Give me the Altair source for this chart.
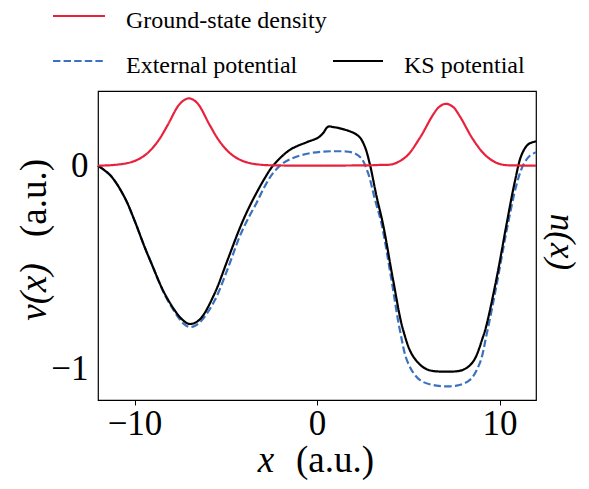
import altair as alt
import pandas as pd

# ---------------- data ----------------
x_ks = [-12.0, -11.3, -10.55, -10.0, -9.45, -9.08, -8.35, -7.62, -7.3, -7.02, -6.7,
        -6.34, -5.61, -4.88, -4.24, -3.8, -3.32, -2.85, -2.41, -1.5, -0.58, 0.06, 0.33, 0.6, 0.9,
        1.25, 1.97, 2.34, 2.62, 2.89, 3.26, 3.62, 4.17, 4.72, 5.27, 6.0, 7.1, 8.01,
        8.56, 9.11, 9.29, 9.84, 10.38, 10.84, 11.21, 11.57, 12.0]
v_ks = [0.0, -0.05, -0.155, -0.27, -0.40, -0.48, -0.63, -0.735, -0.765, -0.78, -0.775,
        -0.75, -0.63, -0.46, -0.31, -0.22, -0.135, -0.06, 0.0, 0.077, 0.115, 0.138, 0.16, 0.192, 0.19,
        0.184, 0.163, 0.14, 0.094, 0.01, -0.15, -0.29, -0.563, -0.81, -0.94, -1.003, -1.015, -1.006,
        -0.965, -0.84, -0.785, -0.555, -0.292, -0.079, 0.053, 0.105, 0.12]

x_ext = [-12.0, -11.3, -10.55, -10.0, -9.45, -9.08, -8.35, -7.62, -7.3, -7.0, -6.7,
         -6.34, -5.61, -4.88, -4.24, -3.8, -3.32, -2.85, -2.41, -1.86, -1.13, -0.22, 0.88, 1.97, 2.43,
         2.8, 3.17, 3.53, 4.08, 4.54, 4.99, 5.63, 6.55, 7.65, 8.38, 8.92, 9.29, 9.84,
         10.38, 10.93, 11.3, 11.66, 12.0]
v_ext = [0.0, -0.05, -0.155, -0.27, -0.40, -0.48, -0.635, -0.745, -0.78, -0.795, -0.79,
         -0.765, -0.665, -0.505, -0.35, -0.265, -0.185, -0.1, -0.037, 0.012, 0.044, 0.064, 0.071, 0.064, 0.036,
         -0.037, -0.165, -0.284, -0.563, -0.81, -0.973, -1.056, -1.084, -1.084, -1.056, -0.973, -0.834, -0.588,
         -0.325, -0.095, 0.003, 0.049, 0.066]

x_n = [-12.0, -11.2, -10.37, -9.82, -9.27, -8.72, -8.17, -7.62, -7.3, -7.02, -6.7,
       -6.43, -5.89, -5.34, -4.79, -4.24, -3.7, -3.0, -2.0, 0.0, 2.0, 3.0, 3.5, 4.17,
       4.9, 5.63, 6.36, 6.7, 7.06, 7.45, 7.83, 8.56, 9.29, 10.02, 11.0, 12.0]
n_vals = [0.0, 0.003, 0.013, 0.03, 0.063, 0.12, 0.202, 0.293, 0.322, 0.332, 0.32,
          0.293, 0.202, 0.12, 0.063, 0.03, 0.013, 0.004, 0.001, 0.0, 0.001, 0.002, 0.004, 0.008,
          0.046, 0.136, 0.251, 0.29, 0.305, 0.29, 0.243, 0.128, 0.046, 0.008, 0.001, 0.0]

series_names = ["Ground-state density", "External potential", "KS potential"]
series_colors = ["#e8213c", "#3a72c0", "#000000"]
series_dash = [[1, 0], [7.4, 3.2], [1, 0]]

x_ticks = [-10, 0, 10]
y_ticks = [0, -1]
x_domain = [-12, 12]
y_domain = [-1.155, 0.368]

FONT = "Liberation Serif"

df = pd.concat([
    pd.DataFrame({"x": x_n, "v": n_vals, "series": series_names[0]}),
    pd.DataFrame({"x": x_ext, "v": v_ext, "series": series_names[1]}),
    pd.DataFrame({"x": x_ks, "v": v_ks, "series": series_names[2]}),
], ignore_index=True)

W, H = 438, 309

xs = alt.Scale(domain=x_domain, nice=False, zero=False)
ys = alt.Scale(domain=y_domain, nice=False, zero=False)

xaxis = alt.Axis(values=x_ticks, title=None, grid=False, domain=False,
                 tickSize=5, tickColor="black", tickWidth=1,
                 labelFont=FONT, labelFontSize=35, labelColor="black",
                 labelPadding=1, labelExpr="replace(datum.label, '-', '−')")
yaxis = alt.Axis(values=y_ticks, title=None, grid=False, domain=False, ticks=False,
                 labelFont=FONT, labelFontSize=35, labelColor="black",
                 labelPadding=10, labelExpr="replace(datum.label, '-', '−')")

layers = []
for i in [1, 2, 0]:
    name = series_names[i]
    sub = df[df.series == name]
    layers.append(
        alt.Chart(sub).mark_line(interpolate="catmull-rom", strokeWidth=2.2,
                                 color=series_colors[i], strokeDash=series_dash[i])
        .encode(x=alt.X("x:Q", scale=xs, axis=xaxis),
                y=alt.Y("v:Q", scale=ys, axis=yaxis),
                order="x:Q")
    )

# legend (two columns, matplotlib style)
leg_pos = [(-45, 7, -75, 28), (-45, 7, -30, 28), (235, 285, -30, 306)]
for i, (x1, x2, yy, tx) in enumerate(leg_pos):
    layers.append(
        alt.Chart(pd.DataFrame({"s": [series_names[i]]})).mark_rule(
            color=series_colors[i], strokeWidth=2.2, strokeDash=series_dash[i])
        .encode(x=alt.value(x1), x2=alt.value(x2), y=alt.value(yy))
    )
    layers.append(
        alt.Chart(pd.DataFrame({"s": [series_names[i]]})).mark_text(
            font=FONT, fontSize=24, align="left", baseline="middle", color="black")
        .encode(x=alt.value(tx), y=alt.value(yy + 5), text="s:N")
    )

def label(txt, x, y, size=37, angle=0, italic=False, align="center", baseline="alphabetic"):
    kw = dict(font=FONT, fontSize=size, align=align, baseline=baseline, color="black")
    if angle:
        kw["angle"] = angle
    if italic:
        kw["fontStyle"] = "italic"
    return (alt.Chart(pd.DataFrame({"t": [txt]})).mark_text(**kw)
            .encode(x=alt.value(x), y=alt.value(y), text="t:N"))

# axis titles
layers.append(label("x", 168, 381, italic=True))
layers.append(label("(a.u.)", 237, 381))
layers.append(label("v(x)", -52, 201, angle=270, italic=True))
layers.append(label("(a.u.)", -52, 107, angle=270))
layers.append(label("n(x)", 453, 151, size=35, angle=90, italic=True))

chart = alt.layer(*layers).properties(
    width=W, height=H,
    autosize=alt.AutoSizeParams(type="none"),
    padding={"left": 90, "top": 83, "right": 45, "bottom": 81},
).configure_view(stroke="black", strokeWidth=1.2)

chart.save("out.html", embed_options={"renderer": "svg", "actions": False})
